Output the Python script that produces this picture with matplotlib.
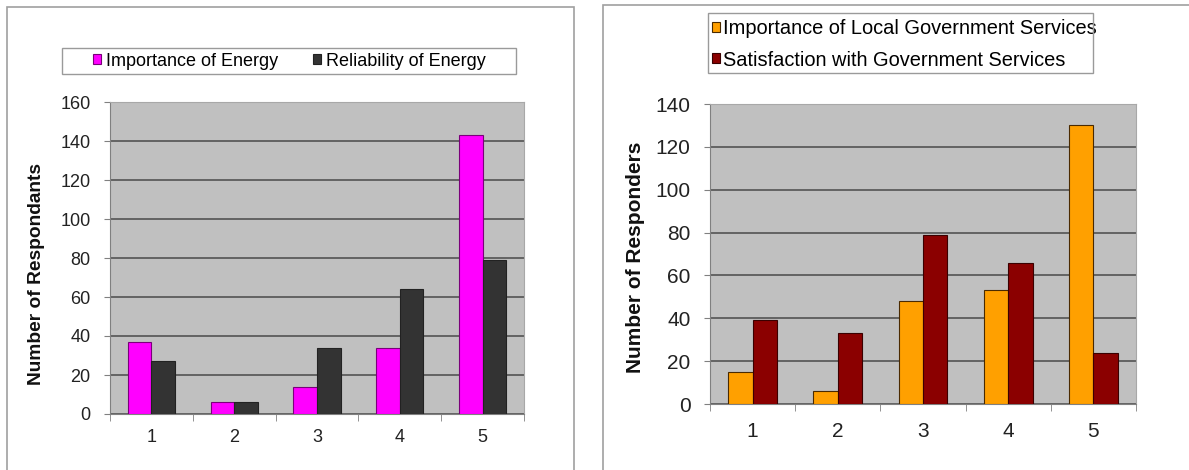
import numpy as np
import matplotlib
matplotlib.use("Agg")
import matplotlib.pyplot as plt
from matplotlib.patches import Rectangle

plt.rcParams['font.family'] = ['Liberation Sans', 'DejaVu Sans']

# Survey ratings (1 = low, 5 = high)
ratings = [1, 2, 3, 4, 5]

# Energy survey
energy_importance = [37, 6, 14, 34, 143]
energy_reliability = [27, 6, 34, 64, 79]
energy_labels = ["Importance of Energy", "Reliability of Energy"]

# Local government survey
gov_importance = [15, 6, 48, 53, 130]
gov_satisfaction = [39, 33, 79, 66, 24]
gov_labels = ["Importance of Local Government Services",
              "Satisfaction with Government Services"]

W, H = 1189, 470
fig = plt.figure(figsize=(W / 100, H / 100), dpi=100)


def px_box(x0, y0, x1, y1):
    # pixel box (top-left origin) -> figure fraction [l, b, w, h]
    return [x0 / W, 1 - y1 / H, (x1 - x0) / W, (y1 - y0) / H]


def frame(x0, y0, x1, y1, color='#a0a0a0', lw=1.2):
    l, b, w, h = px_box(x0, y0, x1, y1)
    fig.patches.append(Rectangle((l, b), w, h, transform=fig.transFigure,
                                 fill=False, edgecolor=color, lw=lw))


# chart frames around each panel, plus the legend boxes
frame(7, 7, 574, 475)
frame(603, 5, 1195, 475)
frame(62, 48, 516, 74, color='#9a9a9a', lw=1.0)
frame(708, 13, 1093, 73, color='#9a9a9a', lw=1.0)


def excel_bars(ax, a, b, colors, edges, ymax, ystep, fs, xpad, ypad):
    x = np.array(ratings, dtype=float)
    w = 1 / 3.5
    ax.set_facecolor('#c0c0c0')
    ax.bar(x - w / 2, a, w, color=colors[0], edgecolor=edges[0], lw=0.8, zorder=3)
    ax.bar(x + w / 2, b, w, color=colors[1], edgecolor=edges[1], lw=0.8, zorder=3)
    ax.set_xlim(0.5, 5.5)
    ax.set_ylim(0, ymax)
    ax.set_yticks(np.arange(0, ymax + 1, ystep))
    ax.yaxis.grid(True, color='#4a4a4a', lw=1.1, zorder=1)
    ax.set_axisbelow(True)
    ax.set_xticks(ratings)
    ax.set_xticks(np.arange(0.5, 5.6, 1), minor=True)
    ax.tick_params(axis='x', which='major', length=0, pad=xpad, labelsize=fs,
                   labelcolor='#222222')
    ax.tick_params(axis='x', which='minor', length=5, color='#808080')
    ax.tick_params(axis='y', length=4, color='#808080', pad=ypad, labelsize=fs,
                   labelcolor='#222222')
    for side in ['top', 'right']:
        ax.spines[side].set_color('#a8a8a8')
    for side in ['left', 'bottom']:
        ax.spines[side].set_color('#808080')


# left panel: energy
ax1 = fig.add_axes(px_box(110, 102, 524, 414))
excel_bars(ax1, energy_importance, energy_reliability,
           ['#ff00ff', '#333333'], ['#7a007a', '#222222'], 160, 20, 13, 11, 10)
fig.text(37 / W, 1 - 274 / H, "Number of Respondants", rotation=90,
         ha='center', va='center', fontsize=13.8, fontweight='bold', color='#111111')
ax1.legend(energy_labels, loc='center left', ncol=2, fontsize=13,
           bbox_to_anchor=(93 / W, 1 - 61 / H), bbox_transform=fig.transFigure,
           frameon=False, handlelength=0.45, handleheight=0.45,
           handletextpad=0.25, columnspacing=1.95, borderpad=0, borderaxespad=0)

# right panel: local government
ax2 = fig.add_axes(px_box(710, 104, 1136, 404))
excel_bars(ax2, gov_importance, gov_satisfaction,
           ['#ffa000', '#8b0000'], ['#4a2a00', '#3a0000'], 140, 20, 15, 13, 10)
fig.text(636 / W, 1 - 257 / H, "Number of Responders", rotation=90,
         ha='center', va='center', fontsize=15, fontweight='bold', color='#111111')
ax2.legend(gov_labels, loc='center left', ncol=1, fontsize=14.4,
           bbox_to_anchor=(712 / W, 1 - 44.5 / H), bbox_transform=fig.transFigure,
           frameon=False, handlelength=0.38, handleheight=0.38,
           handletextpad=0.15, labelspacing=0.6, borderpad=0, borderaxespad=0)

fig.savefig("out.png", dpi=100)
